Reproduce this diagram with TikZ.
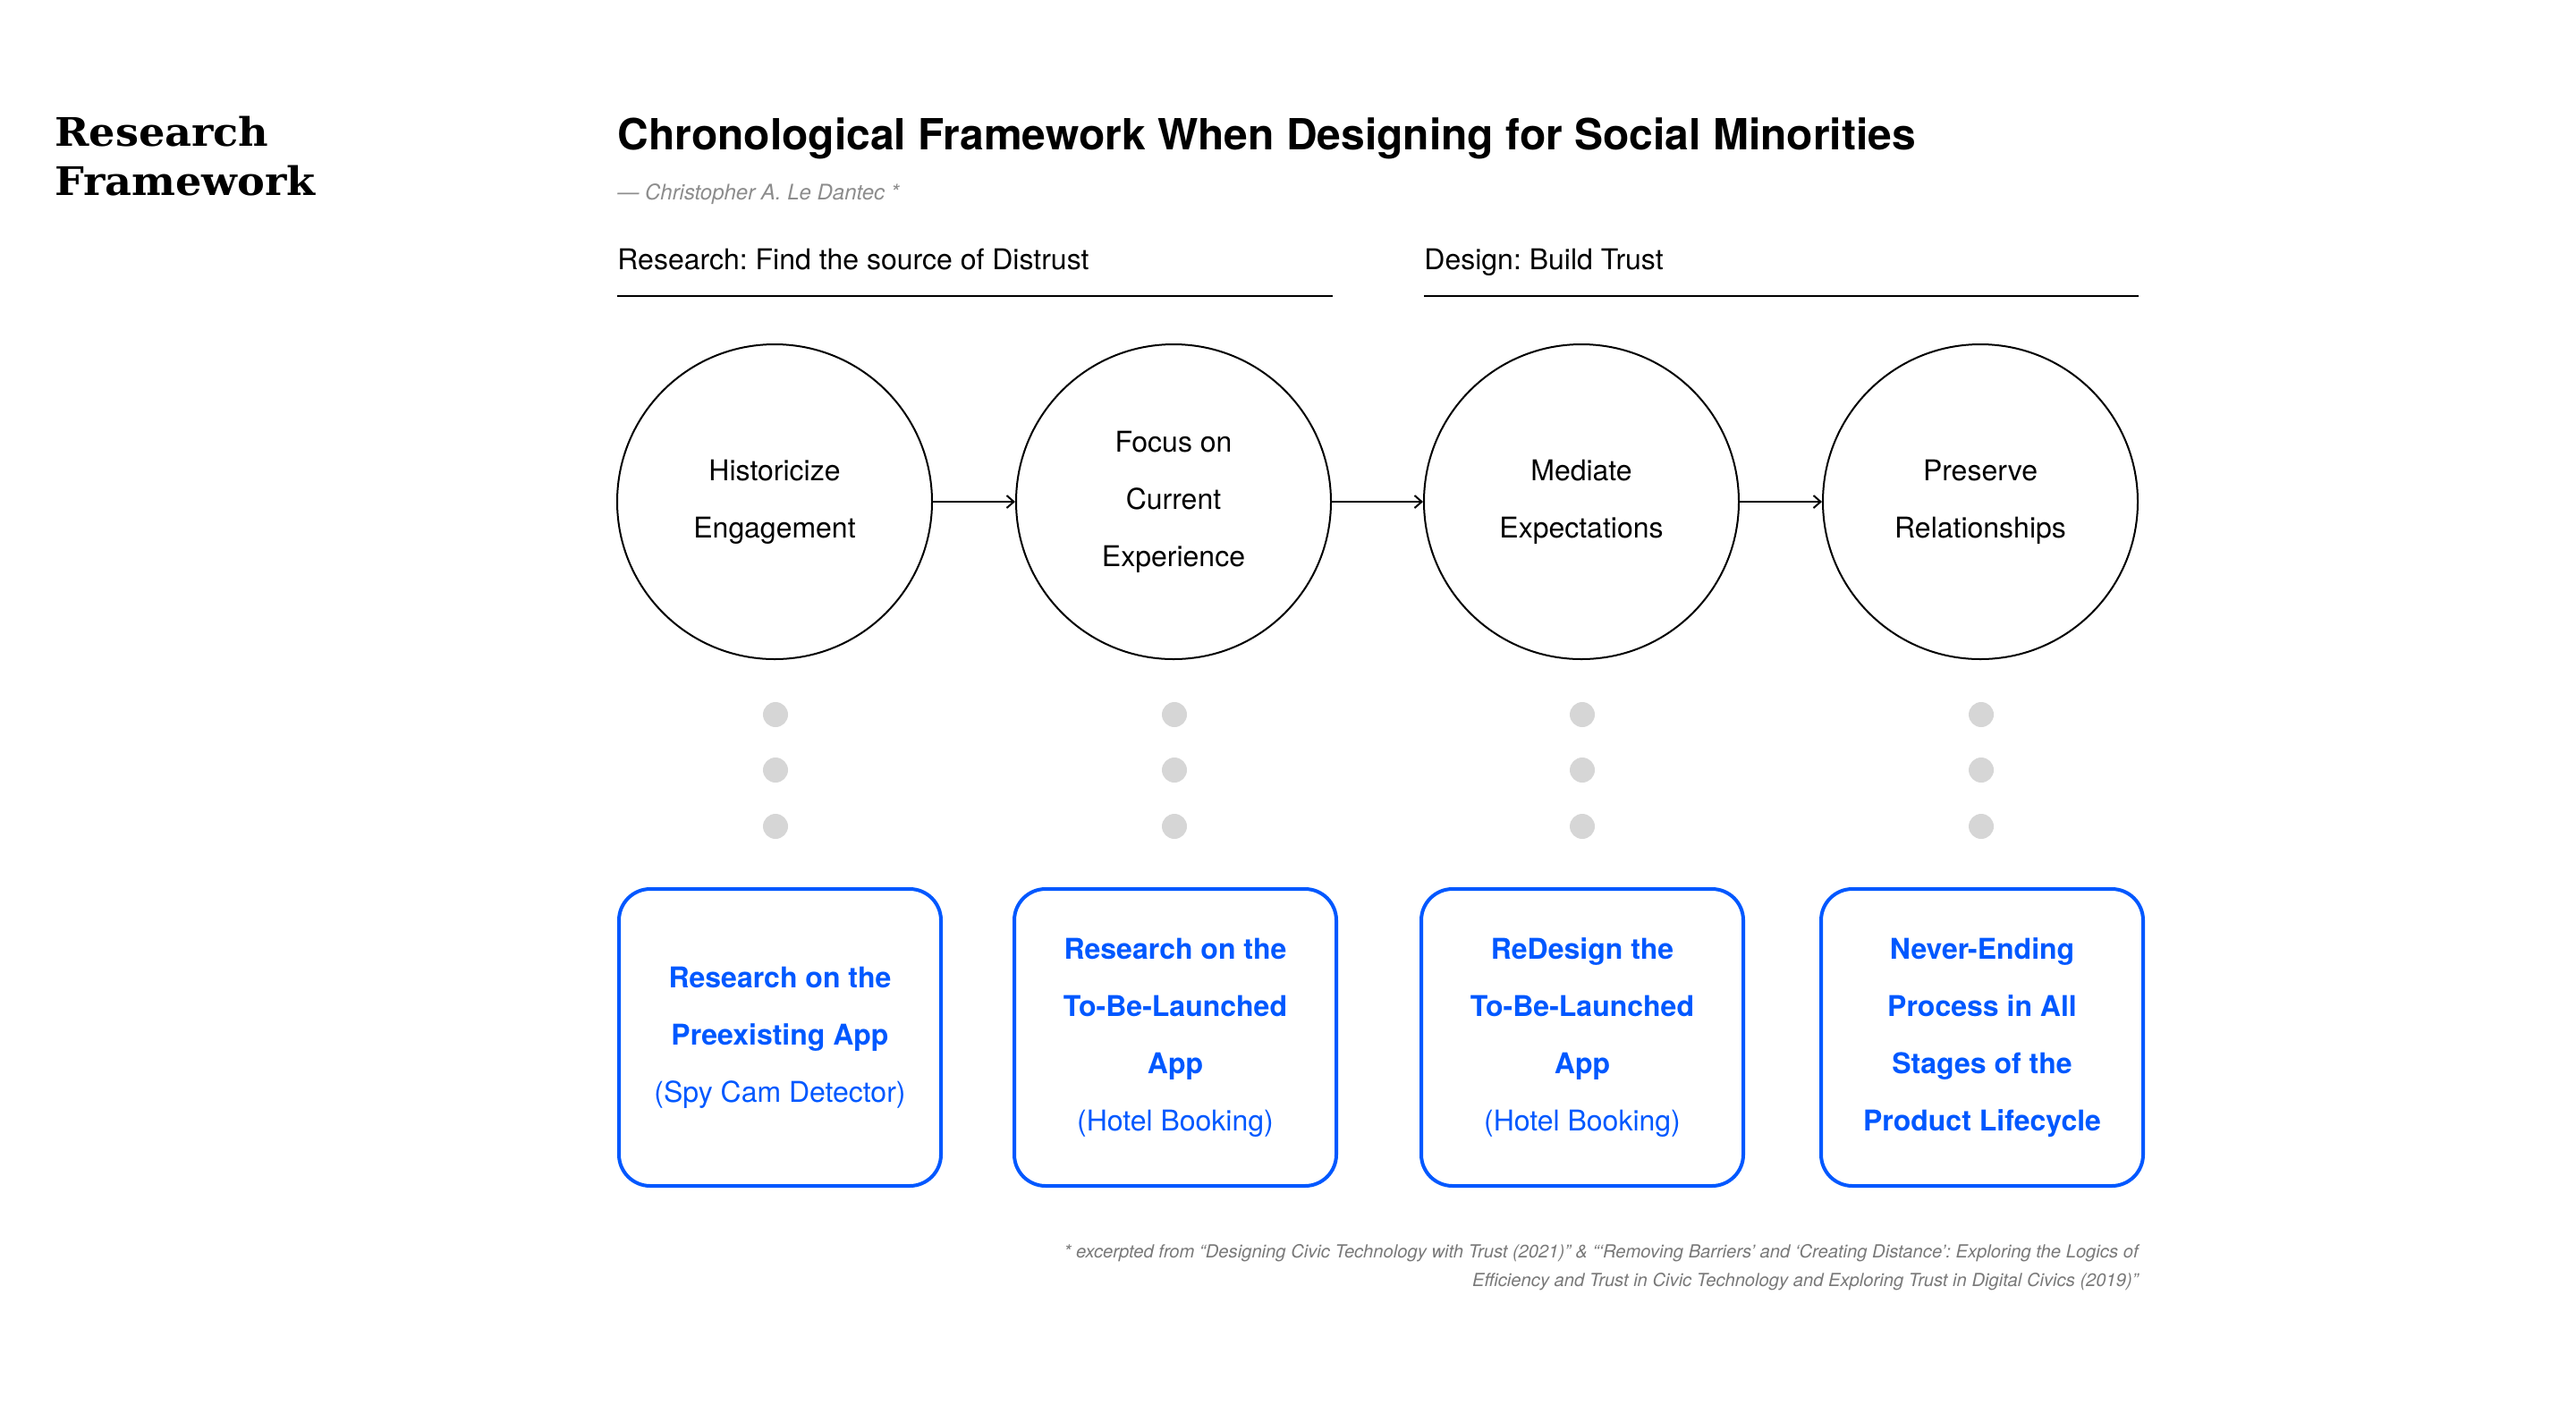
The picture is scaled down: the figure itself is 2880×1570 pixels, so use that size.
\documentclass[tikz,border=0pt]{standalone}
\usepackage{fontspec}
\setmainfont{TeX Gyre Heros}
\newfontfamily\headserif{DejaVu Serif}[FakeStretch=1.05]
\usetikzlibrary{arrows.meta}
\frenchspacing
\definecolor{accent}{RGB}{0,88,255}
\definecolor{dotgray}{RGB}{214,214,214}
\definecolor{notegray}{RGB}{120,120,120}
\definecolor{bylinegray}{RGB}{140,140,140}
\tikzset{
  stage/.style={circle, draw=black, line width=1pt, minimum size=176pt, inner sep=0pt,
    align=center, font=\fontsize{16pt}{32pt}\selectfont},
  outcome/.style={rectangle, rounded corners=17.5pt, draw=accent, line width=2pt,
    minimum width=180pt, minimum height=166pt, inner sep=0pt, align=center,
    text=accent, font=\fontsize{16pt}{32pt}\selectfont},
  flow/.style={line width=1pt, -{Straight Barb[length=4pt,width=7pt,line width=1pt]}},
  spacer/.style={circle, fill=dotgray, minimum size=14pt, inner sep=0pt},
  phase/.style={anchor=base west, inner sep=0pt, font=\fontsize{16pt}{20pt}\selectfont},
  rule/.style={line width=1.3pt},
  sidehead/.style={anchor=base west, inner sep=0pt,
    font=\fontsize{22pt}{26pt}\selectfont\headserif\bfseries},
  note/.style={anchor=base east, inner sep=0pt, text=notegray,
    font=\fontsize{10.1pt}{12pt}\selectfont\itshape},
}
\begin{document}
\begin{tikzpicture}[x=0.5pt,y=-0.5pt]
\useasboundingbox (0,0) rectangle (2880,1570);

% side heading
\node[sidehead] (sideA) at (61,163) {Research};
\node[sidehead] (sideB) at (61,218) {Framework};

% title and byline
\node[anchor=base west, inner sep=0pt, font=\fontsize{24pt}{28pt}\selectfont\bfseries]
  (title) at (690,167) {Chronological Framework When Designing for Social Minorities};
\node[anchor=base west, inner sep=0pt, text=bylinegray, font=\fontsize{12pt}{14pt}\selectfont\itshape]
  (byline) at (690,223) {— Christopher A. Le Dantec *};

% phase headings with rules
\node[phase] (phaseR) at (690,301) {Research: Find the source of Distrust};
\node[phase] (phaseD) at (1592,301) {Design: Build Trust};
\coordinate (rRs) at (690,331);  \coordinate (rRe) at (1490,331);
\coordinate (rDs) at (1592,331); \coordinate (rDe) at (2391,331);
\draw[rule] (rRs) -- (rRe);
\draw[rule] (rDs) -- (rDe);

% stages
\node[stage] (s1) at (866,561) {Historicize\\Engagement};
\node[stage] (s2) at (1312,561) {Focus on\\Current\\Experience};
\node[stage] (s3) at (1768,561) {Mediate\\Expectations};
\node[stage] (s4) at (2214,561) {Preserve\\Relationships};
\draw[flow] (s1) -- (s2);
\draw[flow] (s2) -- (s3);
\draw[flow] (s3) -- (s4);

% dotted spacers
\foreach \i/\x in {1/867,2/1313,3/1769,4/2215}{
  \node[spacer] (d\i a) at (\x,799) {};
  \node[spacer] (d\i b) at (\x,861) {};
  \node[spacer] (d\i c) at (\x,924) {};
}

% outcomes
\node[outcome] (o1) at (872,1160) {\textbf{Research on the}\\\textbf{Preexisting App}\\(Spy Cam Detector)};
\node[outcome] (o2) at (1314,1160) {\textbf{Research on the}\\\textbf{To-Be-Launched}\\\textbf{App}\\(Hotel Booking)};
\node[outcome] (o3) at (1769,1160) {\textbf{ReDesign the}\\\textbf{To-Be-Launched}\\\textbf{App}\\(Hotel Booking)};
\node[outcome] (o4) at (2216,1160) {\textbf{Never-Ending}\\\textbf{Process in All}\\\textbf{Stages of the}\\\textbf{Product Lifecycle}};

% source note
\node[note] (noteA) at (2391,1406) {* excerpted from “Designing Civic Technology with Trust (2021)” \& “‘Removing Barriers’ and ‘Creating Distance’: Exploring the Logics of};
\node[note] (noteB) at (2391,1438) {Efficiency and Trust in Civic Technology and Exploring Trust in Digital Civics (2019)”};
\end{tikzpicture}
\end{document}
